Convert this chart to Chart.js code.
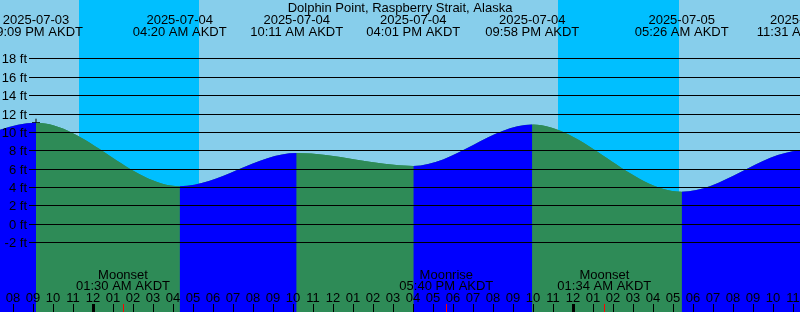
<!DOCTYPE html>
<html>
<head>
<meta charset="utf-8">
<title>Dolphin Point tides</title>
<script src="https://cdn.jsdelivr.net/npm/chart.js@4.4.1/dist/chart.umd.min.js"></script>
<style>
  html, body { margin: 0; padding: 0; background: #87ceeb; }
  #wrap { width: 800px; height: 312px; }
</style>
</head>
<body>
<div id="wrap"><canvas id="tideChart" width="800" height="312"></canvas></div>
<script>
const stationName = "Dolphin Point, Raspberry Strait, Alaska";

// highs and lows (the first and last ones sit just off the picture)
const tideTimes = ["2025-07-03 15:00", "2025-07-03 21:09", "2025-07-04 04:20", "2025-07-04 10:11",
  "2025-07-04 16:01", "2025-07-04 21:58", "2025-07-05 05:26", "2025-07-05 11:31", "2025-07-05 17:45"];
const tideHeights = [5.7, 11.0, 4.1, 7.7, 6.3, 10.8, 3.5, 8.0, 6.4];

const markTimes = ["2025-07-03 21:09"];
const markHeights = [11.0];

const moonTimes = ["2025-07-04 01:30", "2025-07-04 17:40", "2025-07-05 01:34"];
const moonEvents = ["Moonset", "Moonrise", "Moonset"];

const sunsetTimes = ["2025-07-03 23:18", "2025-07-04 23:15"];
const sunriseTimes = ["2025-07-04 05:18", "2025-07-05 05:18"];

const heightTicks = [18, 16, 14, 12, 10, 8, 6, 4, 2, 0, -2];

// window shown: hours from 2025-07-04 00:00 AKDT
const startHour = -4.65;
const endHour = 35.35;

const epoch = Date.UTC(2025, 6, 4, 0, 0);
function toHours(s) {
  const [d, t] = s.split(" ");
  const [yy, mo, dd] = d.split("-").map(Number);
  const [hh, mm] = t.split(":").map(Number);
  return (Date.UTC(yy, mo - 1, dd, hh, mm) - epoch) / 3600000;
}
function pad(n) { return String(n).padStart(2, "0"); }
function clockLabel(s) {
  const [hh, mm] = s.split(" ")[1].split(":").map(Number);
  return pad(hh % 12 || 12) + ":" + pad(mm) + (hh < 12 ? " AM" : " PM") + " AKDT";
}

const FONT = '13px "Liberation Sans", Arial, sans-serif';
const RISING = "#0000ff";
const FALLING = "#2e8b57";

const tidePoints = tideTimes.map((t, i) => ({ x: toHours(t), y: tideHeights[i] }));

const tideDecor = {
  id: "tideDecor",
  beforeDatasetsDraw(chart) {
    const { ctx, chartArea: a, scales: { x } } = chart;
    ctx.save();
    ctx.fillStyle = "#87ceeb";
    ctx.fillRect(a.left, a.top, a.width, a.height);
    ctx.fillStyle = "#00bfff";
    sunsetTimes.forEach((s, i) => {
      const x0 = Math.round(x.getPixelForValue(toHours(s)));
      const x1 = Math.round(x.getPixelForValue(toHours(sunriseTimes[i])));
      ctx.fillRect(x0, a.top, x1 - x0, a.height);
    });
    ctx.restore();
  },
  afterDatasetsDraw(chart) {
    const { ctx, chartArea: a, scales: { x, y } } = chart;
    ctx.save();

    // height grid and labels
    ctx.font = FONT;
    ctx.fillStyle = "#000";
    ctx.textAlign = "right";
    ctx.textBaseline = "alphabetic";
    heightTicks.forEach(v => {
      const py = Math.round(y.getPixelForValue(v));
      ctx.fillRect(29, py, a.right - 29, 1);
      ctx.fillText(v + " ft", 27, py + 5);
    });

    // title and tide event labels
    ctx.textAlign = "center";
    ctx.fillText(stationName, (a.left + a.right) / 2, 12);
    tideTimes.forEach(t => {
      const px = x.getPixelForValue(toHours(t));
      ctx.fillText(t.split(" ")[0], px, 24);
      ctx.fillText(clockLabel(t), px, 36);
    });

    // moon events
    moonTimes.forEach((t, i) => {
      const px = x.getPixelForValue(toHours(t));
      ctx.fillText(moonEvents[i], px, 279);
      ctx.fillText(clockLabel(t), px, 290);
    });

    // hour ticks along the bottom
    for (let h = Math.ceil(startHour); h <= Math.floor(endHour); h++) {
      const px = Math.round(x.getPixelForValue(h));
      const hr = ((h % 24) + 24) % 24;
      ctx.fillStyle = "#000";
      ctx.fillText(pad(hr % 12 || 12), px, 302);
      if (hr === 0) ctx.fillRect(px - 1, 304, 3, 8);
      else ctx.fillRect(px, 304, 1, 8);
    }
    ctx.fillStyle = "#ff0000";
    moonTimes.forEach(t => {
      const px = Math.round(x.getPixelForValue(toHours(t)));
      ctx.fillRect(px, 304, 1, 8);
    });

    ctx.restore();
  }
};

new Chart(document.getElementById("tideChart"), {
  type: "line",
  data: {
    datasets: [
      {
        data: tidePoints,
        fill: "start",
        borderWidth: 0,
        pointRadius: 0,
        cubicInterpolationMode: "monotone",
        backgroundColor: FALLING,
        segment: {
          backgroundColor: c => (c.p1.parsed.y > c.p0.parsed.y ? RISING : FALLING)
        }
      },
      {
        data: markTimes.map((t, i) => ({ x: toHours(t), y: markHeights[i] })),
        showLine: false,
        pointStyle: "cross",
        pointRadius: 4,
        borderColor: "#000",
        borderWidth: 1
      },
      {
        // plain underlay so the segment joins leave no light seams
        data: tidePoints,
        fill: "start",
        borderWidth: 0,
        pointRadius: 0,
        cubicInterpolationMode: "monotone",
        backgroundColor: FALLING
      }
    ]
  },
  options: {
    responsive: false,
    animation: false,
    events: [],
    layout: { padding: 0, autoPadding: false },
    plugins: {
      legend: { display: false },
      tooltip: { enabled: false },
      title: { display: false }
    },
    scales: {
      x: { type: "linear", min: startHour, max: endHour, display: false },
      y: { min: -9.58, max: 24.34, display: false }
    }
  },
  plugins: [tideDecor]
});
</script>
</body>
</html>
